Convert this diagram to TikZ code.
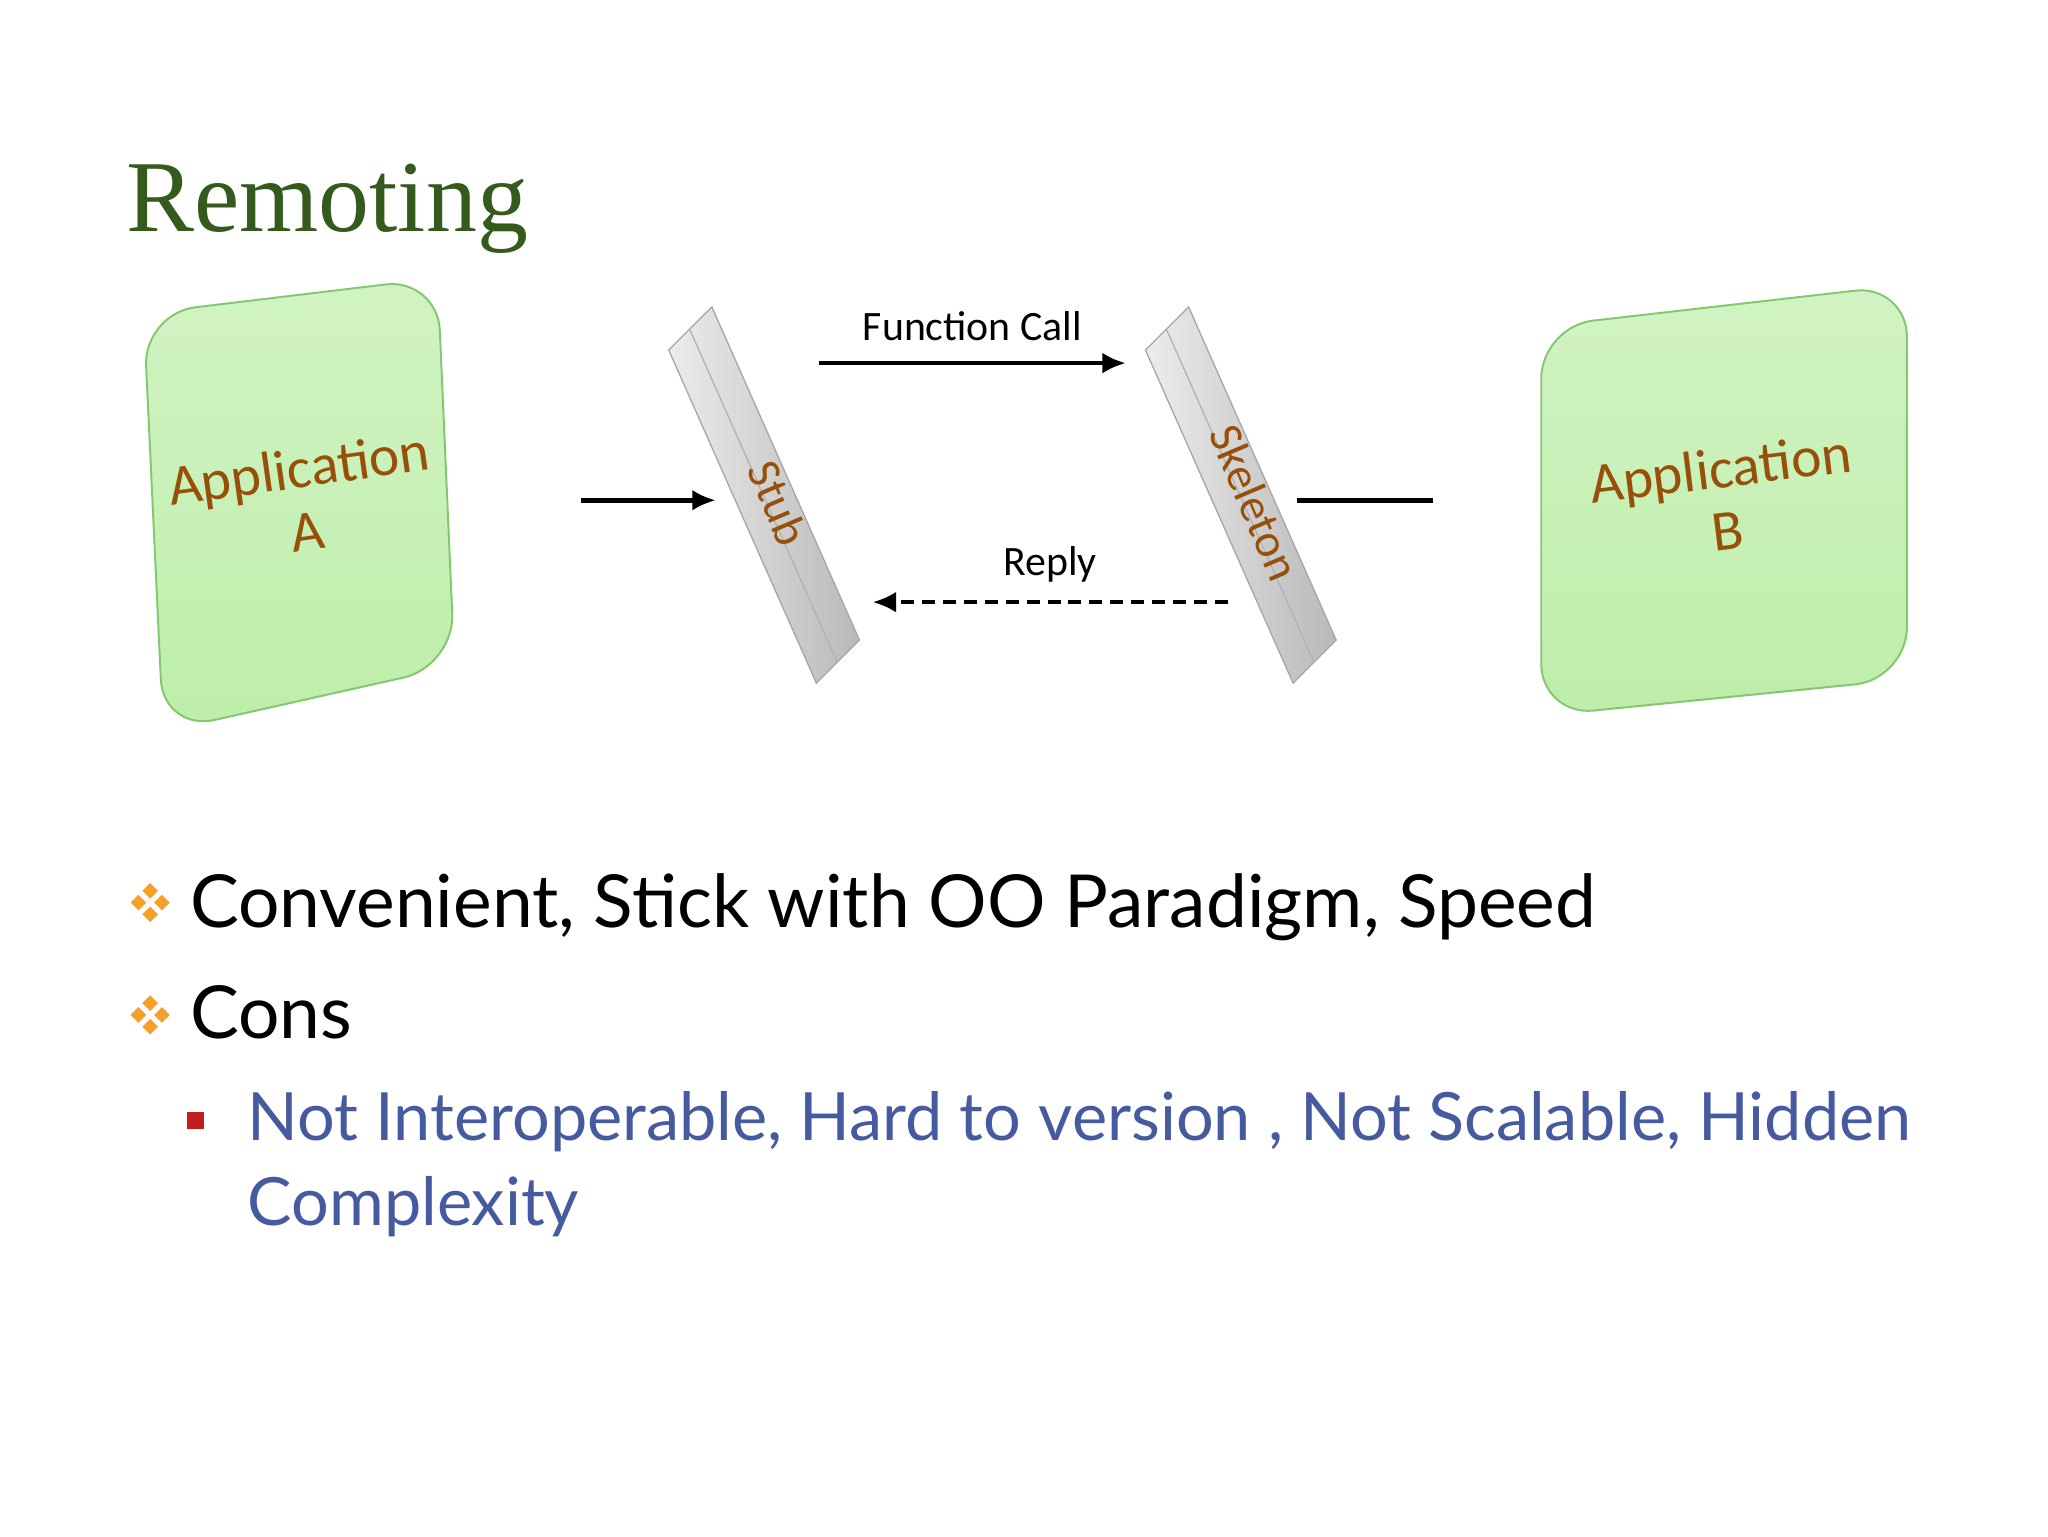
\documentclass[tikz,border=0pt]{standalone}
\usepackage{fontspec}
\setmainfont{Carlito}
\newfontfamily\titlefont{Liberation Serif}
\newfontfamily\bodyfont{Lato}
\usetikzlibrary{arrows.meta,calc}
\definecolor{titlegreen}{RGB}{52,90,30}
\definecolor{appfill}{RGB}{190,238,170}
\definecolor{appedge}{RGB}{130,200,110}
\definecolor{brownt}{RGB}{150,80,10}
\definecolor{bluet}{RGB}{70,90,160}
\definecolor{bulor}{RGB}{245,160,40}
\definecolor{bulred}{RGB}{190,30,30}
\tikzset{
 app/.style={draw=appedge,line width=1.5pt,top color=appfill!70,bottom color=appfill,rounded corners=40pt},
 bar/.style={draw=gray!70,line width=1pt,left color=gray!15,right color=gray!55},
 lbl/.style={font=\fontsize{44}{48}\selectfont,text=brownt,align=center},
 arr/.style={line width=3.5pt,-{Latex[length=18pt,width=16pt]}},
 small/.style={font=\fontsize{32}{36}\selectfont},
 bul/.style={font=\bodyfont\fontsize{56}{60}\selectfont,anchor=base west},
}
\newcommand{\diamondbul}[1]{%
 \foreach \dx/\dy in {0/-9,0/9,-9/0,9/0}{\fill[bulor] ($#1+(\dx,\dy)$) +(0,-6)--+(6,0)--+(0,6)--+(-6,0)--cycle;}}
\begin{document}
\begin{tikzpicture}[x=1pt,y=-1pt]
\useasboundingbox (0,0) rectangle (1568,1176);
\node[font=\titlefont\fontsize{78}{80}\selectfont,text=titlegreen,anchor=base west] (title) at (93,177) {Remoting};
% Application A
\draw[app] (110,240) -- (335,213) -- (348,510) -- (125,560) -- cycle;
\node[lbl,rotate=8] (appA) at (232,382) {Application\\A};
% Application B
\draw[app] (1180,250) -- (1460,218) -- (1460,520) -- (1180,548) -- cycle;
\node[lbl,rotate=7] (appB) at (1320,382) {Application\\B};
% Stub bar
\draw[bar] (512,268) -- (545,235) -- (658,490) -- (625,523) -- cycle;
\draw[gray!60,line width=1pt] (528,252) -- (641,507);
\node[lbl,font=\fontsize{36}{40}\selectfont,rotate=-67] (stub) at (596,385) {Stub};
% Skeleton bar
\draw[bar] (877,268) -- (910,235) -- (1023,490) -- (990,523) -- cycle;
\draw[gray!60,line width=1pt] (893,252) -- (1006,507);
\node[lbl,font=\fontsize{36}{40}\selectfont,rotate=-67] (skel) at (961,385) {Skeleton};
% connectors
\coordinate (a1) at (445,383); \coordinate (a2) at (548,383);
\draw[arr] (a1) -- (a2);
\coordinate (f1) at (627,278); \coordinate (f2) at (862,278);
\draw[arr] (f1) -- node[small,above=12pt] (fc) {Function Call} (f2);
\coordinate (r1) at (940,461); \coordinate (r2) at (668,461);
\draw[arr,dash pattern=on 10pt off 6pt] (r1) -- node[small,above=10pt] (rp) {Reply} (r2);
\coordinate (b1) at (993,383); \coordinate (b2) at (1097,383);
\draw[line width=3.5pt] (b1) -- (b2);
% bullets
\diamondbul{(115,691)}
\node[bul] (t1) at (142,710) {Convenient, Stick with OO Paradigm, Speed};
\diamondbul{(115,777)}
\node[bul] (t2) at (142,795) {Cons};
\fill[bulred] (143,851) rectangle (156,864);
\node[font=\bodyfont\fontsize{51}{65}\selectfont,text=bluet,align=left,anchor=north west] (t3) at (186,832) {Not Interoperable, Hard to version , Not Scalable, Hidden\\Complexity};
\end{tikzpicture}
\end{document}
